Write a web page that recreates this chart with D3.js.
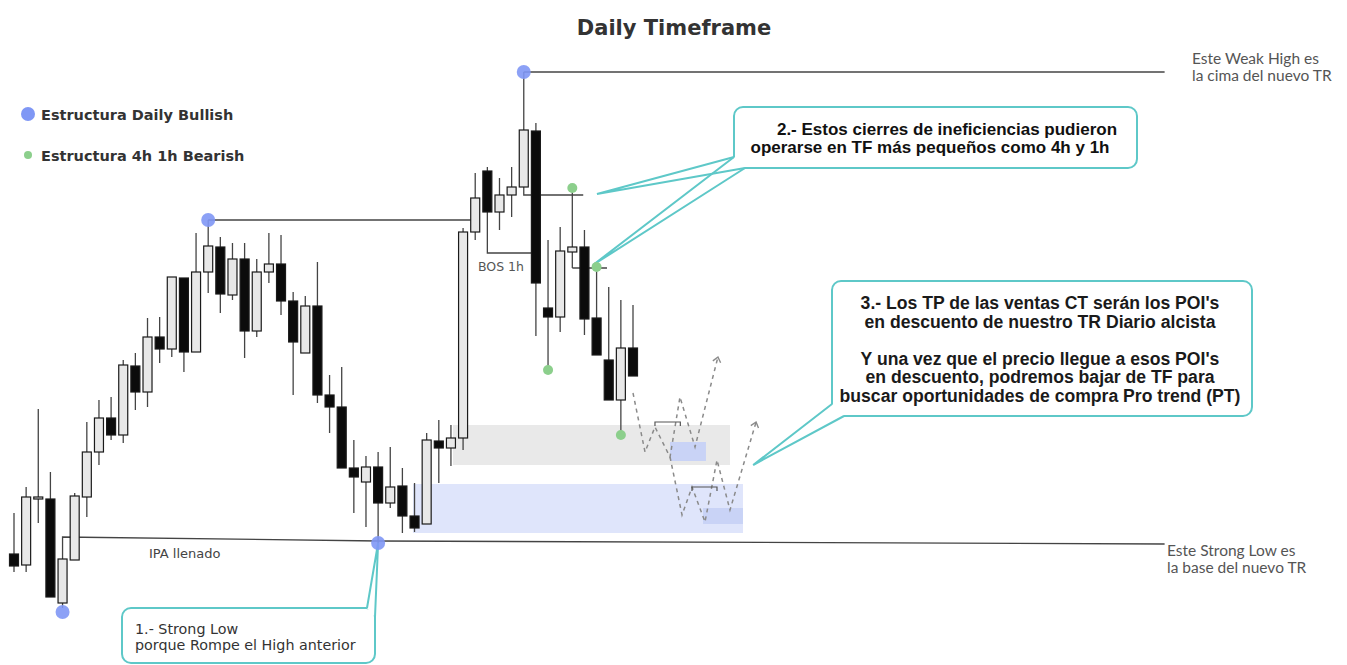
<!DOCTYPE html>
<html>
<head>
<meta charset="utf-8">
<script src="https://cdn.jsdelivr.net/npm/d3@7"></script>
<style>
body { margin: 0; background: #fff; }
svg { display: block; }
</style>
</head>
<body>
<svg id="chart" width="1347" height="665"></svg>
<script>
// daily candles, price units
const opens  = [86,75,141,141,37,80,143,188,222,205,274,248,303,291,362,288,368,393,345,381,309,368,376,339,287,334,245,233,172,158,173,137,154,124,116,199,192,202,408,469,428,445,453,509,332,323,388,393,322,280,240,292];
const highs  = [127,153,231,168,81,147,218,240,243,280,287,322,323,363,362,407,420,403,397,397,381,407,405,348,344,378,265,273,200,184,188,193,172,157,207,220,215,412,467,473,462,473,568,517,400,413,452,410,373,353,340,335];
const lows   = [68,68,117,43,32,80,123,175,200,197,230,233,277,283,268,288,347,327,340,282,303,357,325,245,287,237,207,172,127,113,97,132,107,108,116,157,174,190,400,428,410,423,453,304,270,308,372,305,285,240,205,264];
const closes = [74,143,143,43,81,144,188,222,205,275,248,303,291,363,288,368,394,346,381,309,368,376,339,298,334,245,233,172,163,173,137,153,124,112,200,192,202,408,442,428,445,453,510,357,323,389,393,321,285,240,292,264];

// structure points [candle index, price]
const dailyPts = [[4,28],[16,420],[42,568],[30,97]];
const h4Pts    = [[46,452],[44,270],[48,373],[50,205]];

// levels drawn as polylines [index, price]
const prevHigh  = [[16,420],[37.74,420]];
const weakHigh  = [[42,568],[94.8,568]];
const strongLow = [[4,81],[4,103],[30,99],[94.8,96]];
const bosLine   = [[39,428],[39,387],[42.68,387]];
const line42    = [[42,453],[42,445],[46.9,445]];
const line46    = [[46,372],[48.86,372]];

// zones [i0, i1, pLow, pHigh]
const grayZone = [36.17, 58.99, 175, 215];
const blueZone = [32.87, 60.06, 107, 156];
const poiZones = [[54.05,57.01,179,198],[56.77,60.06,116,132]];

// projected paths
const path1 = [[51,247],[51.99,188],[52.81,213],[54.05,183],[54.87,243],[56.11,193],[58,283]];
const path2 = [[54.05,183],[55.04,125],[55.86,153],[56.93,118],[57.92,180],[58.99,130],[61.14,218]];
const brackets = [[[52.81,218],[54.9,218]],[[55.86,153],[57.92,153]]];

const candles = opens.map((o, i) => ({i: i, o: o, h: highs[i], l: lows[i], c: closes[i]}));

const svg = d3.select("#chart");
const x = d3.scaleLinear().domain([0, 51]).range([14, 633]);
const y = d3.scaleLinear().domain([0, 600]).range([640, 40]);
const line = d3.line().x(d => x(d[0])).y(d => y(d[1]));
const teal = "#5ec8c8";

// title
svg.append("text").attr("x", 674).attr("y", 35).attr("text-anchor", "middle")
    .style("font-family", "DejaVu Sans").style("font-weight", "bold").style("font-size", "21px")
    .attr("fill", "#333").text("Daily Timeframe");

// zones
svg.append("rect").attr("x", x(grayZone[0])).attr("y", y(grayZone[3]))
    .attr("width", x(grayZone[1]) - x(grayZone[0])).attr("height", y(grayZone[2]) - y(grayZone[3]))
    .attr("fill", "#e9e9e9");
svg.append("rect").attr("x", x(blueZone[0])).attr("y", y(blueZone[3]))
    .attr("width", x(blueZone[1]) - x(blueZone[0])).attr("height", y(blueZone[2]) - y(blueZone[3]))
    .attr("fill", "#dfe5fb");
svg.selectAll("rect.poi").data(poiZones).enter().append("rect").attr("class", "poi")
    .attr("x", d => x(d[0])).attr("y", d => y(d[3]))
    .attr("width", d => x(d[1]) - x(d[0])).attr("height", d => y(d[2]) - y(d[3]))
    .attr("fill", "#c9d3f6");

// level lines
[prevHigh, weakHigh, strongLow, bosLine, line42, line46].forEach(pts => {
    svg.append("path").attr("d", line(pts)).attr("fill", "none")
        .attr("stroke", "#444").attr("stroke-width", 1.3);
});

// candles
const cg = svg.append("g");
cg.selectAll("line.wick").data(candles).enter().append("line").attr("class", "wick")
    .attr("x1", d => x(d.i)).attr("x2", d => x(d.i))
    .attr("y1", d => y(d.h)).attr("y2", d => y(d.l))
    .attr("stroke", "#444").attr("stroke-width", 1.3);
cg.selectAll("rect.body").data(candles).enter().append("rect").attr("class", "body")
    .attr("x", d => x(d.i) - 4.5).attr("width", 9)
    .attr("y", d => y(Math.max(d.o, d.c)))
    .attr("height", d => Math.max(2, Math.abs(y(d.o) - y(d.c))))
    .attr("fill", d => d.c >= d.o ? "#e8e8e8" : "#0b0b0b")
    .attr("stroke", "#1a1a1a").attr("stroke-width", 1.2);

// projections
svg.append("defs").append("marker").attr("id", "chev")
    .attr("viewBox", "-6 -6 12 12").attr("markerWidth", 12).attr("markerHeight", 12)
    .attr("markerUnits", "userSpaceOnUse").attr("orient", "auto")
    .append("path").attr("d", "M-5,-4L0,0L-5,4").attr("fill", "none")
    .attr("stroke", "#8a8a8a").attr("stroke-width", 1.4);
[path1, path2].forEach(pts => {
    svg.append("path").attr("d", line(pts)).attr("fill", "none")
        .attr("stroke", "#8a8a8a").attr("stroke-width", 1.5).attr("stroke-dasharray", "4,4")
        .attr("marker-end", "url(#chev)");
});
brackets.forEach(b => {
    const x0 = x(b[0][0]), x1 = x(b[1][0]), yy = y(b[0][1]);
    svg.append("path").attr("d", `M${x0},${yy + 4}L${x0},${yy}L${x1},${yy}L${x1},${yy + 4}`)
        .attr("fill", "none").attr("stroke", "#555").attr("stroke-width", 1.2);
});

// callouts
function callout(box, bases, tips) {
    const g = svg.append("g");
    g.append("rect").attr("x", box.x).attr("y", box.y).attr("width", box.w).attr("height", box.h)
        .attr("rx", 9).attr("fill", "#fff").attr("stroke", teal).attr("stroke-width", 2);
    tips.forEach(t => {
        g.append("path").attr("d", `M${bases[0]}L${t}L${bases[1]}Z`).attr("fill", "#fff");
    });
    tips.forEach(t => {
        g.append("path").attr("d", `M${bases[0]}L${t}L${bases[1]}`).attr("fill", "none")
            .attr("stroke", teal).attr("stroke-width", 2);
    });
    return g;
}
const pt = d => [x(d[0]), y(d[1])];

const c1 = callout({x: 122, y: 608, w: 253, h: 55}, [[367, 608], [375, 617]], [pt(dailyPts[3])]);
c1.selectAll("text").data(["1.- Strong Low", "porque Rompe el High anterior"]).enter().append("text")
    .attr("x", 135).attr("y", (d, i) => 634 + i * 16)
    .style("font-family", "DejaVu Sans").style("font-size", "14.3px").attr("fill", "#333").text(d => d);

const c2 = callout({x: 734, y: 107, w: 403, h: 61}, [[734, 157], [745, 168]], [pt([48.03, 446]), pt([47.7, 375])]);
c2.selectAll("text").data(["2.- Estos cierres de ineficiencias pudieron", "operarse en TF más pequeños como 4h y 1h"])
    .enter().append("text")
    .attr("x", (d, i) => i ? 930 : 947).attr("y", (d, i) => 135 + i * 18).attr("text-anchor", "middle")
    .style("font-family", "Liberation Sans").style("font-weight", "bold").style("font-size", "17px")
    .attr("fill", "#111").text(d => d);

const c3 = callout({x: 832, y: 281, w: 420, h: 135}, [[832, 404], [844, 416]], [pt([60.9, 175])]);
const c3lines = ["3.- Los TP de las ventas CT serán los POI's", "en descuento de nuestro TR Diario alcista", "",
    "Y una vez que el precio llegue a esos POI's", "en descuento, podremos bajar de TF para",
    "buscar oportunidades de compra Pro trend (PT)"];
c3.selectAll("text").data(c3lines).enter().append("text")
    .attr("x", 1040).attr("y", (d, i) => 309 + i * 18.5).attr("text-anchor", "middle")
    .style("font-family", "Liberation Sans").style("font-weight", "bold").style("font-size", "17.6px")
    .attr("fill", "#1a1a1a").text(d => d);

// structure dots
svg.selectAll("circle.daily").data(dailyPts).enter().append("circle").attr("class", "daily")
    .attr("cx", d => x(d[0])).attr("cy", d => y(d[1])).attr("r", 7)
    .attr("fill", "#7f97f5").attr("opacity", 0.9);
svg.selectAll("circle.h4").data(h4Pts).enter().append("circle").attr("class", "h4")
    .attr("cx", d => x(d[0])).attr("cy", d => y(d[1])).attr("r", 5)
    .attr("fill", "#8ccf8c");

// small labels
svg.append("text").attr("x", 149).attr("y", 558).style("font-family", "DejaVu Sans")
    .style("font-size", "13px").attr("fill", "#444").text("IPA llenado");
svg.append("text").attr("x", 478).attr("y", 271).style("font-family", "DejaVu Sans")
    .style("font-size", "12.5px").attr("fill", "#555").text("BOS 1h");

const side = [["Este Weak High es", "la cima del nuevo TR", 1192, 64], ["Este Strong Low es", "la base del nuevo TR", 1167, 556]];
side.forEach(s => {
    [s[0], s[1]].forEach((t, i) => {
        svg.append("text").attr("x", s[2]).attr("y", s[3] + i * 17)
            .style("font-family", "Lato").style("font-size", "15.5px").attr("fill", "#555").text(t);
    });
});

// legend
const legend = [["Estructura Daily Bullish", "#7f97f5", 7, 114], ["Estructura 4h 1h Bearish", "#8ccf8c", 4, 155]];
legend.forEach(l => {
    svg.append("circle").attr("cx", 28).attr("cy", l[3]).attr("r", l[2]).attr("fill", l[1]);
    svg.append("text").attr("x", 41).attr("y", l[3] + 5.5).style("font-family", "DejaVu Sans")
        .style("font-weight", "bold").style("font-size", "14.5px").attr("fill", "#333").text(l[0]);
});
</script>
</body>
</html>
